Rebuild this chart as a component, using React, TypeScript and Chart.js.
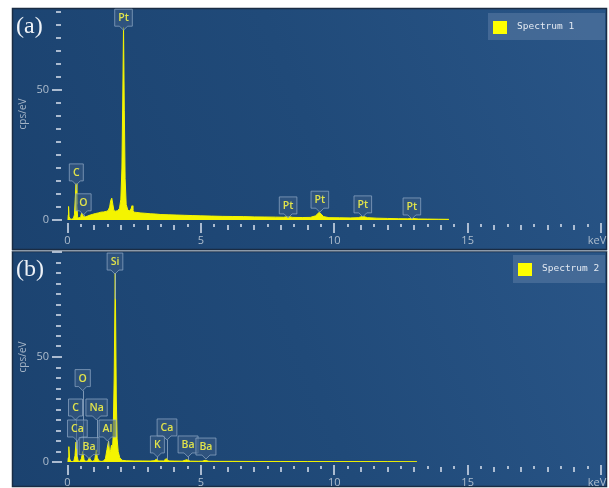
import React, { useEffect, useRef } from "react";
import { Chart, registerables } from "chart.js";

Chart.register(...registerables);

// ---- Spectrum 1: energy (keV) and intensity (cps/eV)
const energyA = [
  0, 0.02, 0.04, 0.06, 0.1, 0.16, 0.22, 0.26, 0.29, 0.32, 0.35, 0.38, 0.42, 0.47, 0.5, 0.53, 0.56,
  0.6, 0.66, 0.75, 0.85, 0.95, 1.05, 1.15, 1.25, 1.35, 1.45, 1.52, 1.58, 1.62, 1.66, 1.7, 1.74,
  1.8, 1.88, 1.95, 2.0, 2.04, 2.07, 2.1, 2.13, 2.16, 2.2, 2.26, 2.32, 2.38, 2.42, 2.45, 2.5, 2.6,
  2.75, 2.9, 3.1, 3.3, 3.5, 3.8, 4.1, 4.4, 4.7, 5.0, 5.4, 5.8, 6.2, 6.6, 7.0, 7.4, 7.8, 8.1, 8.27,
  8.45, 8.8, 9.1, 9.3, 9.44, 9.6, 9.8, 10.2, 10.6, 10.9, 11.07, 11.25, 11.6, 12.0, 12.4, 12.75,
  12.94, 13.15, 13.5, 13.9, 14.3,
];
const countsA = [
  0, 2, 5.2, 1.2, 0.4, 0.3, 0.6, 2, 8, 14, 6, 1.2, 0.8, 1, 1.6, 2.6, 2.2,
  1.3, 1.2, 1.5, 1.9, 2.2, 2.5, 2.7, 3.0, 3.1, 3.3, 3.6, 5, 7.5, 8.4, 6, 3.6,
  3.4, 3.6, 4.5, 8, 20, 45, 74, 42, 16, 6, 3.8, 3.5, 4.2, 5.5, 3.6, 3.0, 2.9,
  2.7, 2.6, 2.4, 2.3, 2.1, 2.0, 1.9, 1.8, 1.7, 1.6, 1.5, 1.4, 1.35, 1.3, 1.2, 1.15, 1.1, 1.05, 1.3,
  1.0, 0.95, 1.0, 1.6, 3.0, 1.3, 0.9, 0.85, 0.8, 0.9, 1.4, 0.9, 0.7, 0.6, 0.5, 0.45,
  0.6, 0.4, 0.35, 0.3, 0.25,
];
const elementsA = ["C", "O", "Pt", "Pt", "Pt", "Pt", "Pt"];
const lineKeVA = [0.33, 0.6, 2.1, 8.27, 9.46, 11.07, 12.91];
const tagLevelA = [13.5, 2, 73, 0.8, 3, 1.2, 0.4];

// ---- Spectrum 2
const energyB = [
  0, 0.02, 0.05, 0.08, 0.12, 0.18, 0.24, 0.28, 0.32, 0.36, 0.4, 0.46, 0.52, 0.57, 0.62, 0.68,
  0.76, 0.82, 0.88, 0.95, 1.02, 1.08, 1.12, 1.18, 1.26, 1.34, 1.42, 1.48, 1.54, 1.58, 1.62, 1.65,
  1.68, 1.71, 1.75, 1.79, 1.83, 1.86, 1.9, 1.96, 2.05, 2.2, 2.5, 2.8, 3.1, 3.25, 3.33, 3.42, 3.6,
  3.7, 3.8, 4.0, 4.3, 4.47, 4.6, 4.9, 5.05, 5.16, 5.3, 5.7, 6.2, 7.0, 8.0, 9.0, 10.0, 11.0, 12.0,
  13.1,
];
const countsB = [
  0, 2, 7.3, 1.5, 0.3, 0.2, 0.5, 3, 9.5, 3, 0.5, 0.3, 1.5, 5, 1.2, 0.3,
  0.5, 2.2, 0.6, 0.3, 1, 5.8, 2, 0.5, 0.3, 0.4, 1.5, 6, 10, 4, 6, 8,
  5, 12, 40, 90, 30, 11, 5, 2, 0.8, 0.6, 0.5, 0.5, 0.45, 0.6, 1.3, 0.5, 0.5,
  1.6, 0.5, 0.45, 0.4, 1.1, 0.4, 0.35, 0.4, 0.8, 0.35, 0.3, 0.3, 0.25, 0.25, 0.22, 0.2, 0.2, 0.18,
  0.15,
];
const elementsB = ["Si", "O", "C", "Na", "Ca", "Al", "Ba", "K", "Ca", "Ba", "Ba"];
const lineKeVB = [1.78, 0.57, 0.3, 1.09, 0.37, 1.5, 0.81, 3.37, 3.73, 4.52, 5.19];
const tagLevelB = [89.5, 34, 20, 20, 10, 10, 1.6, 2.4, 10.5, 2.4, 1.4];

// ---- Axis labelling
const xTickValues = [0, 5, 10, 15];
const xUnit = "keV";
const yLabelValues = [0, 50];
const yUnit = "cps/eV";

const SPEC_FILL = "#f4f400";
const TICK_COLOR = "rgba(196,208,224,0.85)";
const TEXT_COLOR = "#aebdcd";

type PanelCfg = {
  letter: string;
  legend: string;
  energy: number[];
  counts: number[];
  elements: string[];
  lineKeV: number[];
  tagLevel: number[];
  yMax: number;
  height: number;
  padTop: number;
  padBottom: number;
  panelTop: number;
  panelBottom: number;
  separator: boolean;
  legendBox: [number, number, number, number];
  unitY: number;
};

function valueAt(energy: number[], counts: number[], e: number) {
  for (let i = 1; i < energy.length; i++) {
    if (energy[i] >= e) {
      const t = (e - energy[i - 1]) / (energy[i] - energy[i - 1]);
      return counts[i - 1] + t * (counts[i] - counts[i - 1]);
    }
  }
  return 0;
}

function drawTag(ctx: CanvasRenderingContext2D, text: string, cx: number, tipY: number) {
  ctx.font = "600 10.5px 'Open Sans', sans-serif";
  const tw = ctx.measureText(text).width;
  const w = Math.max(14, tw + 7);
  const h = 17;
  const notch = 4;
  const bottom = tipY - notch;
  const top = bottom - h;
  const l = cx - w / 2;
  const r = cx + w / 2;
  ctx.beginPath();
  ctx.moveTo(l, top);
  ctx.lineTo(r, top);
  ctx.lineTo(r, bottom);
  ctx.lineTo(cx + notch, bottom);
  ctx.lineTo(cx, tipY);
  ctx.lineTo(cx - notch, bottom);
  ctx.lineTo(l, bottom);
  ctx.closePath();
  ctx.fillStyle = "rgba(58,92,132,0.6)";
  ctx.fill();
  ctx.strokeStyle = "rgba(140,165,195,0.75)";
  ctx.lineWidth = 1;
  ctx.stroke();
  ctx.fillStyle = "#e2e44a";
  ctx.textAlign = "center";
  ctx.textBaseline = "middle";
  ctx.fillText(text, cx, (top + bottom) / 2 + 0.5);
}

function makeDecor(cfg: PanelCfg) {
  return {
    id: "panelDecor",
    beforeDraw(chart: any) {
      const { ctx } = chart;
      const L = 12, R = 607;
      const T = cfg.panelTop, B = cfg.panelBottom;
      ctx.save();
      ctx.fillStyle = "#ffffff";
      ctx.fillRect(0, 0, chart.width, chart.height);
      const g = ctx.createLinearGradient(L, B, R, T);
      g.addColorStop(0, "#1b426f");
      g.addColorStop(0.5, "#204a79");
      g.addColorStop(1, "#295587");
      ctx.fillStyle = g;
      ctx.fillRect(L, T, R - L, B - T);
      ctx.strokeStyle = "#1a2c44";
      ctx.lineWidth = 1.5;
      ctx.strokeRect(L + 0.5, T + 0.5, R - L - 1, B - T - 1);
      if (cfg.separator) {
        ctx.fillStyle = "#8c9aaa";
        ctx.fillRect(L, 0, R - L, 1.5);
      }
      ctx.restore();
    },
    afterDatasetsDraw(chart: any) {
      const { ctx } = chart;
      const xs = chart.scales.x;
      const ys = chart.scales.y;
      const y0 = ys.getPixelForValue(0);
      ctx.save();

      // y ticks every 5 cps/eV
      ctx.fillStyle = TICK_COLOR;
      for (let v = 0; v <= cfg.yMax; v += 5) {
        const y = Math.round(ys.getPixelForValue(v)) - 1;
        const major = v % 50 === 0;
        if (major) ctx.fillRect(52, y, 10, 2);
        else ctx.fillRect(56, y, 5, 2);
      }
      ctx.font = "11px 'Open Sans', sans-serif";
      ctx.fillStyle = TEXT_COLOR;
      ctx.textAlign = "right";
      ctx.textBaseline = "middle";
      yLabelValues.forEach((v) => ctx.fillText(String(v), 49, ys.getPixelForValue(v)));

      // x ticks every 0.5 keV
      ctx.fillStyle = TICK_COLOR;
      for (let k = 0; k <= 40; k++) {
        const v = k / 2;
        const x = Math.round(xs.getPixelForValue(v)) - 1;
        if (v % 5 === 0) ctx.fillRect(x, y0 + 3, 2, 10);
        else if (v % 1 === 0) ctx.fillRect(x, y0 + 5, 2, 5);
        else ctx.fillRect(x, y0 + 4, 2, 3);
      }
      ctx.fillStyle = TEXT_COLOR;
      ctx.textAlign = "center";
      ctx.textBaseline = "middle";
      xTickValues.forEach((v) => ctx.fillText(String(v), xs.getPixelForValue(v), y0 + 20.5));
      ctx.fillText(xUnit, xs.getPixelForValue(20) - 4, y0 + 20.5);

      // y unit
      ctx.save();
      ctx.translate(23, cfg.unitY);
      ctx.rotate(-Math.PI / 2);
      ctx.font = "10px 'Open Sans', sans-serif";
      ctx.fillStyle = "#a4b4c6";
      ctx.fillText(yUnit, 0, 0);
      ctx.restore();

      // panel letter
      ctx.font = "24px 'Liberation Serif', serif";
      ctx.fillStyle = "#eef2f7";
      ctx.textAlign = "left";
      ctx.textBaseline = "middle";
      ctx.fillText(`(${cfg.letter})`, 16, cfg.panelTop + 19);

      // element tags: leader lines first, then boxes
      ctx.strokeStyle = "rgba(150,172,198,0.8)";
      ctx.lineWidth = 1;
      cfg.elements.forEach((_, i) => {
        const x = xs.getPixelForValue(cfg.lineKeV[i]);
        const tip = ys.getPixelForValue(cfg.tagLevel[i]);
        const peak = ys.getPixelForValue(valueAt(cfg.energy, cfg.counts, cfg.lineKeV[i]));
        if (peak - tip > 1.5) {
          ctx.beginPath();
          ctx.moveTo(Math.round(x) + 0.5, tip);
          ctx.lineTo(Math.round(x) + 0.5, peak);
          ctx.stroke();
        }
      });
      cfg.elements.forEach((name, i) => {
        const x = xs.getPixelForValue(cfg.lineKeV[i]);
        const tip = ys.getPixelForValue(cfg.tagLevel[i]);
        drawTag(ctx, name, x, tip);
      });

      // legend
      const [lx, ly, lw, lh] = cfg.legendBox;
      ctx.fillStyle = "rgba(96,128,168,0.5)";
      ctx.fillRect(lx, ly, lw, lh);
      ctx.fillStyle = "#ffff00";
      ctx.fillRect(lx + 5, ly + 8, 14, 13);
      ctx.font = "9.5px 'DejaVu Sans Mono', monospace";
      ctx.fillStyle = "#e4eaf2";
      ctx.textAlign = "left";
      ctx.textBaseline = "middle";
      ctx.fillText(cfg.legend, lx + 29, ly + lh / 2);

      ctx.restore();
    },
  };
}

function Panel({ cfg, top }: { cfg: PanelCfg; top: number }) {
  const ref = useRef<HTMLCanvasElement | null>(null);
  useEffect(() => {
    if (!ref.current) return;
    const chart = new Chart(ref.current, {
      type: "line",
      data: {
        datasets: [
          {
            label: cfg.legend,
            data: cfg.energy.map((e, i) => ({ x: e, y: cfg.counts[i] })),
            borderColor: SPEC_FILL,
            backgroundColor: SPEC_FILL,
            borderWidth: 1,
            pointRadius: 0,
            fill: "origin",
            tension: 0,
          },
        ],
      },
      options: {
        responsive: false,
        animation: false,
        devicePixelRatio: 1,
        events: [],
        layout: { padding: { left: 67.5, right: 8, top: cfg.padTop, bottom: cfg.padBottom } },
        plugins: { legend: { display: false }, tooltip: { enabled: false } },
        scales: {
          x: { type: "linear", min: 0, max: 20, display: false },
          y: { type: "linear", min: 0, max: cfg.yMax, display: false },
        },
      },
      plugins: [makeDecor(cfg)],
    });
    return () => chart.destroy();
  }, [cfg]);
  return (
    <canvas
      ref={ref}
      width={609}
      height={cfg.height}
      style={{ position: "absolute", left: 0, top, width: 609, height: cfg.height }}
    />
  );
}

const panelA: PanelCfg = {
  letter: "a",
  legend: "Spectrum 1",
  energy: energyA,
  counts: countsA,
  elements: elementsA,
  lineKeV: lineKeVA,
  tagLevel: tagLevelA,
  yMax: 80,
  height: 250,
  padTop: 12,
  padBottom: 30,
  panelTop: 8,
  panelBottom: 250,
  separator: false,
  legendBox: [488, 13, 117, 27],
  unitY: 114,
};

const panelB: PanelCfg = {
  letter: "b",
  legend: "Spectrum 2",
  energy: energyB,
  counts: countsB,
  elements: elementsB,
  lineKeV: lineKeVB,
  tagLevel: tagLevelB,
  yMax: 100,
  height: 238,
  padTop: 2,
  padBottom: 26,
  panelTop: 1,
  panelBottom: 237,
  separator: true,
  legendBox: [513, 5, 92, 28],
  unitY: 107,
};

export default function App() {
  return (
    <div
      style={{ position: "fixed", left: 0, top: 0, width: 609, height: 488, background: "#ffffff", overflow: "hidden" }}
    >
      <Panel cfg={panelA} top={0} />
      <Panel cfg={panelB} top={250} />
    </div>
  );
}
